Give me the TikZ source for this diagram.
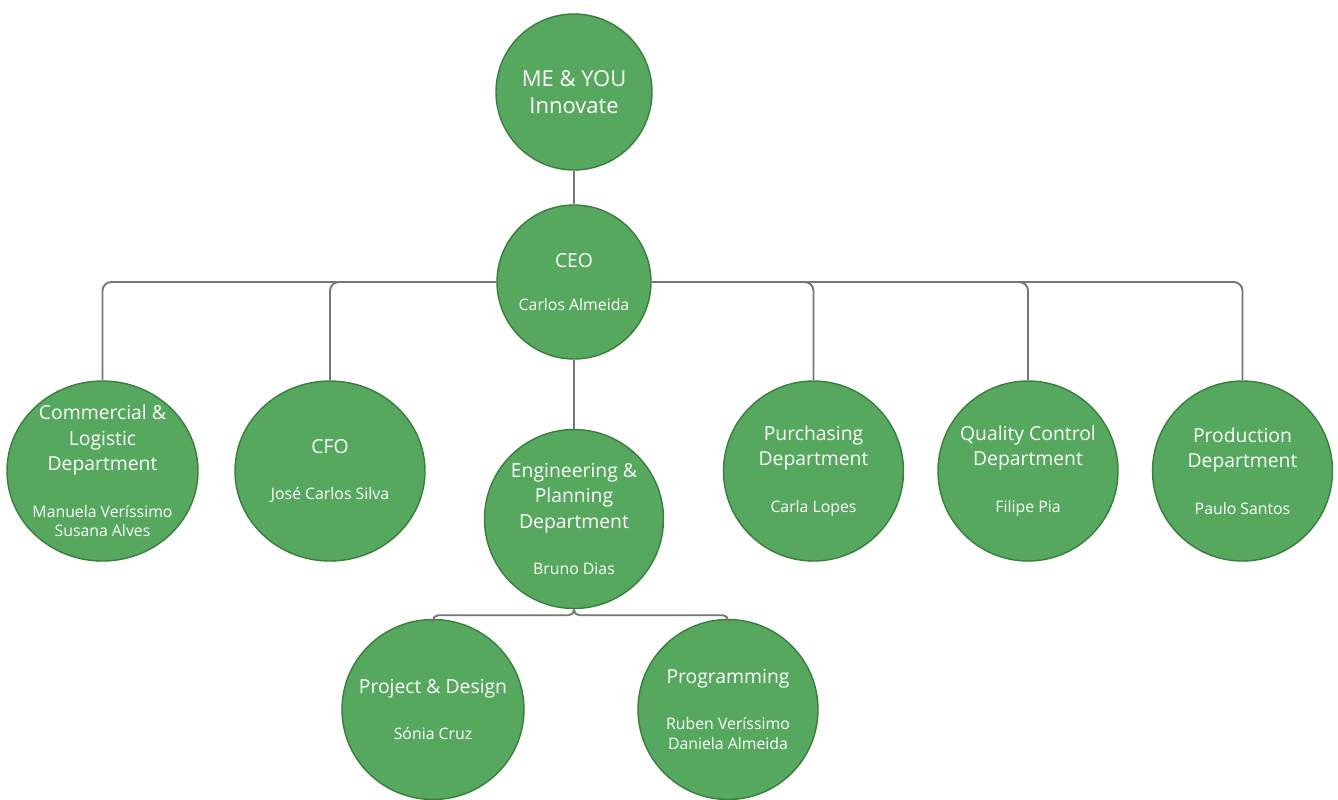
\documentclass[tikz,border=0pt]{standalone}
\usepackage{fontspec}
\setmainfont{Open Sans}
\usetikzlibrary{shapes,calc,positioning}
\definecolor{unitgreen}{HTML}{55A85E}
\definecolor{unitedge}{HTML}{3A7D3E}
\definecolor{linkgrey}{HTML}{777777}
\tikzset{
  unit/.style = {
    ellipse,
    draw=unitedge,
    line width=0.8pt,
    fill=unitgreen,
    text=white,
    align=center,
    inner xsep=-0.5cm,
    inner ysep=-0.6cm,
    font=\fontsize{11}{14.5}\selectfont
  },
  link/.style = {
    draw=linkgrey,
    line width=1.1pt,
    rounded corners=5pt
  }
}
\newcommand\who[1]{{\fontsize{9}{11}\selectfont #1}}

\begin{document}
\begin{tikzpicture}
		\useasboundingbox (0,0) rectangle (26.76,-15.98);
		\node[unit, minimum width=3.12cm, minimum height=3.12cm,
		      font=\fontsize{12.5}{15.3}\selectfont] (company) at (11.48,-1.84) {ME \& YOU\\Innovate};
		\node[unit, minimum width=3.08cm, minimum height=3.08cm] (ceo) at (11.48,-5.64)
		      {CEO\\[10pt]\who{Carlos Almeida}};
		
		\node[unit, minimum width=3.82cm, minimum height=3.6cm] (commercial) at (2.05,-9.42)
		      {Commercial \&\\Logistic\\Department\\[12pt]\who{Manuela Veríssimo}\\[-3.2pt]\who{Susana Alves}};
		\node[unit, minimum width=3.8cm, minimum height=3.6cm] (cfo) at (6.60,-9.42)
		      {CFO\\[12pt]\who{José Carlos Silva}};
		\node[unit, minimum width=3.58cm, minimum height=3.58cm] (engineering) at ($(ceo)+(0,-4.74)$)
		      {Engineering \&\\Planning\\Department\\[12pt]\who{Bruno Dias}};
		\node[unit, minimum width=3.6cm, minimum height=3.6cm] (purchasing) at (16.27,-9.42)
		      {Purchasing\\Department\\[12pt]\who{Carla Lopes}};
		\node[unit, minimum width=3.6cm, minimum height=3.6cm] (quality) at ($(purchasing)+(4.29,0)$)
		      {Quality Control\\Department\\[12pt]\who{Filipe Pia}};
		\node[unit, minimum width=3.6cm, minimum height=3.6cm] (production) at ($(quality)+(4.29,0)$)
		      {Production\\Department\\[12pt]\who{Paulo Santos}};
		
		\node[unit, minimum width=3.64cm, minimum height=3.6cm] (project) at (8.66,-14.19)
		      {Project \& Design\\[12pt]\who{Sónia Cruz}};
		\node[unit, minimum width=3.6cm, minimum height=3.6cm] (programming) at (14.56,-14.19)
		      {Programming\\[12pt]\who{Ruben Veríssimo}\\[-3.2pt]\who{Daniela Almeida}};
		
		\draw[link] (company) -- (ceo);
		\draw[link] (ceo) -- (engineering);
		\draw[link] (ceo.west) -| (commercial);
		\draw[link] (ceo.west) -| (cfo);
		\draw[link] (ceo.east) -| (purchasing);
		\draw[link] (ceo.east) -| (quality);
		\draw[link] (ceo.east) -| (production);
		
		\coordinate (fork) at ($(engineering.south)+(0,-0.12)$);
		\draw[link, rounded corners=3pt] (engineering.south) -- (fork) -| (project);
		\draw[link, rounded corners=3pt] (engineering.south) -- (fork) -| (programming);
	\end{tikzpicture}
\end{document}
